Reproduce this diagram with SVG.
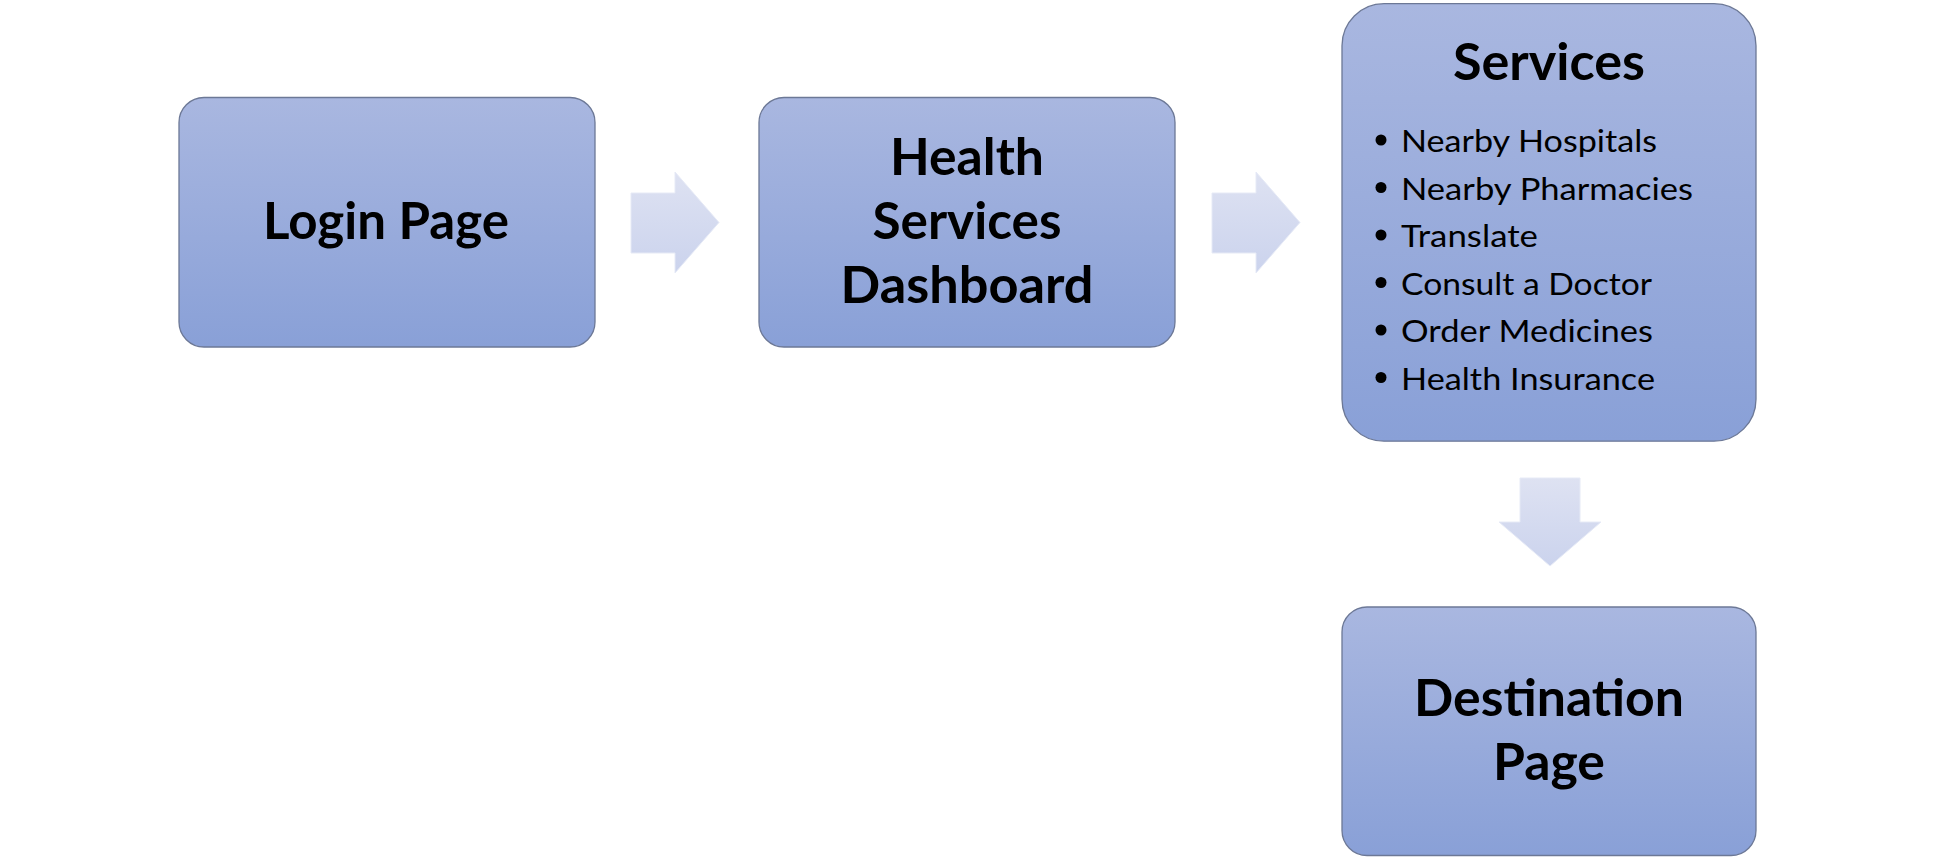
<svg xmlns="http://www.w3.org/2000/svg" width="1936" height="859" viewBox="0 0 1936 859">
  <defs>
    <linearGradient id="boxGrad" x1="0" y1="0" x2="0" y2="1">
      <stop offset="0" stop-color="#A9B7E0"/>
      <stop offset="1" stop-color="#89A0D7"/>
    </linearGradient>
    <linearGradient id="arrowGrad" x1="0" y1="0" x2="0" y2="1">
      <stop offset="0" stop-color="#DEE2F2"/>
      <stop offset="1" stop-color="#CBD3ED"/>
    </linearGradient>
    <style>
      .box { fill: url(#boxGrad); stroke: #6C7896; stroke-width: 1.3; }
      .arrow { fill: url(#arrowGrad); stroke: #E6EAF6; stroke-width: 1; }
      .title { font-family: Lato, "Open Sans", "Liberation Sans", sans-serif; font-weight: bold; font-size: 51px; fill: #000000; text-anchor: middle; }
      .item { font-family: Lato, "Open Sans", "Liberation Sans", sans-serif; font-size: 31px; fill: #000000; }
      .bullet { fill: #000000; }
    </style>
  </defs>

  <g id="connectors">
    <polygon class="arrow" points="631,193 675,193 675,172 719,222.5 675,273 675,253 631,253"/>
    <polygon class="arrow" points="1212,193 1256,193 1256,172 1300,222.5 1256,273 1256,253 1212,253"/>
    <polygon class="arrow" points="1520,478 1580,478 1580,522 1601,522 1550,566 1499,522 1520,522"/>
  </g>

  <g id="login">
    <rect class="box" x="179" y="97.5" width="416" height="249.5" rx="25" ry="25"/>
    <text class="title" x="386" y="239" textLength="246" lengthAdjust="spacingAndGlyphs">Login Page</text>
  </g>

  <g id="dashboard">
    <rect class="box" x="759" y="97.5" width="416" height="249.5" rx="25" ry="25"/>
    <text class="title" x="967" y="175" textLength="154" lengthAdjust="spacingAndGlyphs">Health</text>
    <text class="title" x="967" y="239" textLength="189" lengthAdjust="spacingAndGlyphs">Services</text>
    <text class="title" x="967" y="303" textLength="253" lengthAdjust="spacingAndGlyphs">Dashboard</text>
  </g>

  <g id="services">
    <rect class="box" x="1342" y="3.7" width="414" height="437.5" rx="42" ry="42"/>
    <text class="title" x="1549" y="80" textLength="192" lengthAdjust="spacingAndGlyphs">Services</text>
    <circle class="bullet" cx="1381" cy="140" r="5.5"/>
    <text class="item" x="1401" y="152" textLength="256" lengthAdjust="spacingAndGlyphs">Nearby Hospitals</text>
    <circle class="bullet" cx="1381" cy="187.5" r="5.5"/>
    <text class="item" x="1401" y="199.5" textLength="292" lengthAdjust="spacingAndGlyphs">Nearby Pharmacies</text>
    <circle class="bullet" cx="1381" cy="235" r="5.5"/>
    <text class="item" x="1401" y="247" textLength="137" lengthAdjust="spacingAndGlyphs">Translate</text>
    <circle class="bullet" cx="1381" cy="282.5" r="5.5"/>
    <text class="item" x="1401" y="294.5" textLength="251" lengthAdjust="spacingAndGlyphs">Consult a Doctor</text>
    <circle class="bullet" cx="1381" cy="330" r="5.5"/>
    <text class="item" x="1401" y="342" textLength="252" lengthAdjust="spacingAndGlyphs">Order Medicines</text>
    <circle class="bullet" cx="1381" cy="377.5" r="5.5"/>
    <text class="item" x="1401" y="389.5" textLength="254" lengthAdjust="spacingAndGlyphs">Health Insurance</text>
  </g>

  <g id="destination">
    <rect class="box" x="1342" y="607" width="414" height="248.5" rx="25" ry="25"/>
    <text class="title" x="1549" y="716" textLength="270" lengthAdjust="spacingAndGlyphs">Destination</text>
    <text class="title" x="1549" y="780" textLength="112" lengthAdjust="spacingAndGlyphs">Page</text>
  </g>
</svg>
